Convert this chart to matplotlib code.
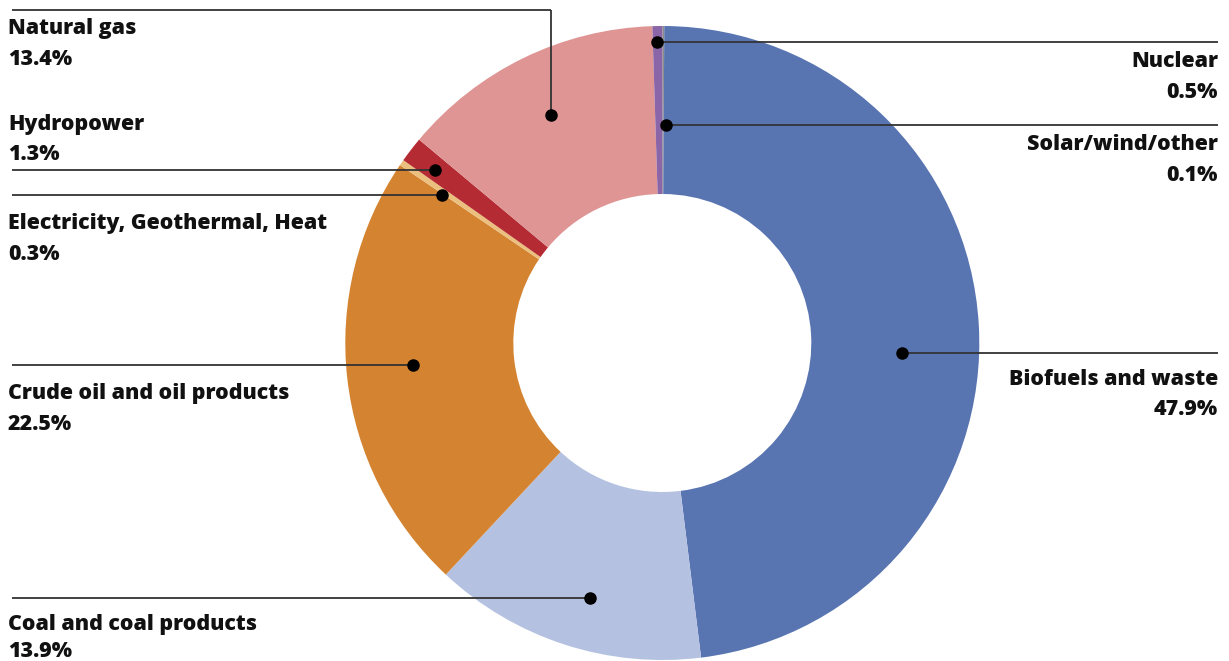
import numpy as np
import matplotlib
matplotlib.use("Agg")
import matplotlib.pyplot as plt

# ---- data ----
categories = ["Solar/wind/other", "Biofuels and waste", "Coal and coal products",
              "Crude oil and oil products", "Electricity, Geothermal, Heat",
              "Hydropower", "Natural gas", "Nuclear"]
shares = [0.1, 47.9, 13.9, 22.5, 0.3, 1.3, 13.4, 0.5]
colors = ["#8c8c8c", "#5874B1", "#B5C1E1", "#D48431", "#EBC07E",
          "#B52B34", "#DE9594", "#8A66A8"]

# ---- layout (pixel coordinates, y measured from top) ----
W, H = 1229, 661
CX, CY = 662.3, 343.0
R_OUT, R_IN = 317.0, 149.0
# dot anchors in polar form (angle deg, radius px)
anchor_polar = {
    "Solar/wind/other": (89.0, 218),
    "Biofuels and waste": (-2.4, 239.6),
    "Coal and coal products": (-105.8, 265.3),
    "Crude oil and oil products": (185.0, 250.3),
    "Electricity, Geothermal, Heat": (146.1, 265.6),
    "Hydropower": (142.7, 285.6),
    "Natural gas": (116.0, 253.7),
    "Nuclear": (91.07, 301),
}
# side, line y (None -> at dot), text baselines (name, value)
label_layout = {
    "Natural gas": ("left", 10, 34, 65),
    "Hydropower": ("left", None, 130, 160),
    "Electricity, Geothermal, Heat": ("left", None, 229, 260),
    "Crude oil and oil products": ("left", None, 399, 430),
    "Coal and coal products": ("left", None, 630, 657),
    "Nuclear": ("right", None, 67, 98),
    "Solar/wind/other": ("right", None, 150, 181),
    "Biofuels and waste": ("right", None, 385, 415),
}
X_LEFT_LINE, X_RIGHT_LINE = 12, 1218
X_LEFT_TEXT, X_RIGHT_TEXT = 8, 1218

fig = plt.figure(figsize=(W / 100, H / 100), dpi=100)
ax = fig.add_axes([0, 0, 1, 1])

ax.pie(shares, colors=colors, startangle=90, counterclock=False,
       center=(CX, H - CY), radius=R_OUT,
       wedgeprops=dict(width=R_OUT - R_IN, linewidth=0))

font = dict(family=["Open Sans", "DejaVu Sans"], weight=800, size=15.4, color="#111111")
line_kw = dict(color="#333333", lw=1.3, solid_capstyle="butt", zorder=3)

for cat, val in zip(categories, shares):
    ang, r = anchor_polar[cat]
    dx = CX + r * np.cos(np.radians(ang))
    dy = H - (CY - r * np.sin(np.radians(ang)))
    side, ly, b1, b2 = label_layout[cat]
    if ly is None:
        ly_d = dy
    else:
        ly_d = H - ly
        ax.plot([dx, dx], [dy, ly_d], **line_kw)
    if side == "left":
        ax.plot([X_LEFT_LINE, dx], [ly_d, ly_d], **line_kw)
        tx, ha = X_LEFT_TEXT, "left"
    else:
        ax.plot([dx, X_RIGHT_LINE], [ly_d, ly_d], **line_kw)
        tx, ha = X_RIGHT_TEXT, "right"
    ax.plot([dx], [dy], "o", color="black", ms=8, zorder=4)
    ax.text(tx, H - b1, cat, ha=ha, va="baseline", **font)
    ax.text(tx, H - b2, f"{val}%", ha=ha, va="baseline", **font)

ax.set_xlim(0, W)
ax.set_ylim(0, H)
ax.set_aspect("auto")
ax.axis("off")
fig.savefig("out.png", dpi=100)
